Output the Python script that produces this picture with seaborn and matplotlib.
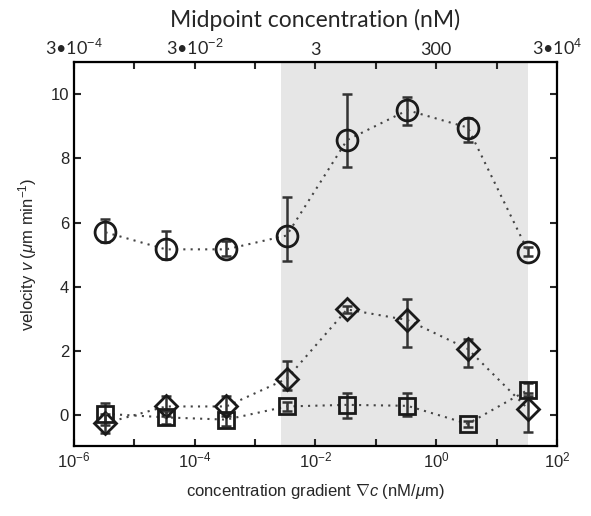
import numpy as np
import pandas as pd
import matplotlib
matplotlib.use("Agg")
import matplotlib.pyplot as plt
import seaborn as sns

# ---- data ----
midpoint_nM = [1e-3, 1e-2, 1e-1, 1e0, 1e1, 1e2, 1e3, 1e4]
gradient = [m / 300.0 for m in midpoint_nM]

circ_y = [5.70, 5.17, 5.17, 5.60, 8.57, 9.50, 8.96, 5.10]
circ_lo = [0.30, 0.30, 0.20, 0.80, 0.85, 0.45, 0.45, 0.15]
circ_hi = [0.40, 0.56, 0.25, 1.20, 1.45, 0.40, 0.30, 0.15]

dia_y = [-0.24, 0.28, 0.28, 1.14, 3.30, 2.97, 2.07, 0.20]
dia_lo = [0.30, 0.30, 0.30, 0.35, 0.10, 0.83, 0.55, 0.70]
dia_hi = [0.30, 0.33, 0.33, 0.55, 0.10, 0.67, 0.30, 0.50]

sq_y = [0.05, -0.06, -0.13, 0.28, 0.33, 0.30, -0.26, 0.80]
sq_lo = [0.35, 0.20, 0.20, 0.15, 0.40, 0.33, 0.10, 0.20]
sq_hi = [0.35, 0.20, 0.20, 0.15, 0.37, 0.40, 0.10, 0.20]

shade_range = [2.7e-3, 33.3]

bottom_ticks = [1e-6, 1e-4, 1e-2, 1e0, 1e2]
bottom_labels = [r"$10^{-6}$", r"$10^{-4}$", r"$10^{-2}$", r"$10^{0}$", r"$10^{2}$"]
top_ticks = [3e-4, 3e-2, 3e0, 3e2, 3e4]
top_labels = [r"3•10$^{-4}$", r"3•10$^{-2}$", "3", "300", r"3•10$^{4}$"]
y_ticks = [0, 2, 4, 6, 8, 10]

# ---- style ----
sns.set_style("ticks")
plt.rcParams["font.family"] = ["Liberation Sans", "DejaVu Sans"]
plt.rcParams["mathtext.fontset"] = "custom"
plt.rcParams["mathtext.rm"] = "Liberation Sans"
plt.rcParams["mathtext.it"] = "Liberation Sans:italic"
plt.rcParams["mathtext.bf"] = "Liberation Sans:bold"

fig = plt.figure(figsize=(5.91, 5.16), dpi=100)
ax = fig.add_axes([0.125, 0.1357, 0.8175, 0.7441])
ax.set_xscale("log")

ax.axvspan(shade_range[0], shade_range[1], color="#e6e6e6", zorder=0, lw=0)

mk = "#1a1a1a"
ln = "#444444"
series = [
    (circ_y, circ_lo, circ_hi, "o", 15),
    (dia_y, dia_lo, dia_hi, "D", 11.5),
    (sq_y, sq_lo, sq_hi, "s", 11.5),
]
for ys, lo, hi, m, ms in series:
    df = pd.DataFrame({"x": gradient, "y": ys})
    sns.lineplot(data=df, x="x", y="y", ax=ax, color=ln, linestyle=(0, (1, 2.5)),
                 lw=1.5, marker=m, markersize=ms, markerfacecolor="none",
                 markeredgecolor=mk, markeredgewidth=2.0, zorder=3)
    ax.errorbar(gradient, ys, yerr=[lo, hi], fmt="none", ecolor="#333333",
                elinewidth=1.8, capsize=3.5, capthick=1.8, zorder=2)

ax.set_xlim(1e-6, 1e2)
ax.set_ylim(-0.95, 11)
ax.set_xticks(bottom_ticks)
ax.set_xticklabels(bottom_labels)
ax.xaxis.set_minor_locator(matplotlib.ticker.FixedLocator(
    [1e-5, 1e-3, 1e-1, 1e1]))
ax.xaxis.set_minor_formatter(matplotlib.ticker.NullFormatter())
ax.set_yticks(y_ticks)
ax.tick_params(axis="both", which="both", direction="in", length=5, width=1.5,
               labelsize=12, top=False, right=True)
ax.tick_params(axis="x", which="minor", length=5, width=1.5)
for s in ax.spines.values():
    s.set_linewidth(1.6)
    s.set_color("black")

ax.set_xlabel(r"concentration gradient $\nabla c$ (nM/$\mu$m)", fontsize=12, labelpad=8)
ax.set_ylabel(r"velocity $v$ ($\mu$m min$^{-1}$)", fontsize=12, labelpad=8)

sec = ax.secondary_xaxis("top", functions=(lambda x: x * 300.0, lambda x: x / 300.0))
sec.set_xscale("log")
sec.set_xticks(top_ticks)
sec.set_xticklabels(top_labels, fontfamily=["Lato", "DejaVu Sans"], fontsize=13)
sec.xaxis.set_minor_locator(matplotlib.ticker.FixedLocator([3e-3, 3e-1, 3e1, 3e3]))
sec.xaxis.set_minor_formatter(matplotlib.ticker.NullFormatter())
sec.tick_params(axis="x", which="both", direction="in", length=5, width=1.5, pad=3)
sec.set_xlabel("Midpoint concentration (nM)", fontfamily=["Lato", "DejaVu Sans"],
               fontsize=16.5, labelpad=8)

fig.savefig("out.png", dpi=100)
